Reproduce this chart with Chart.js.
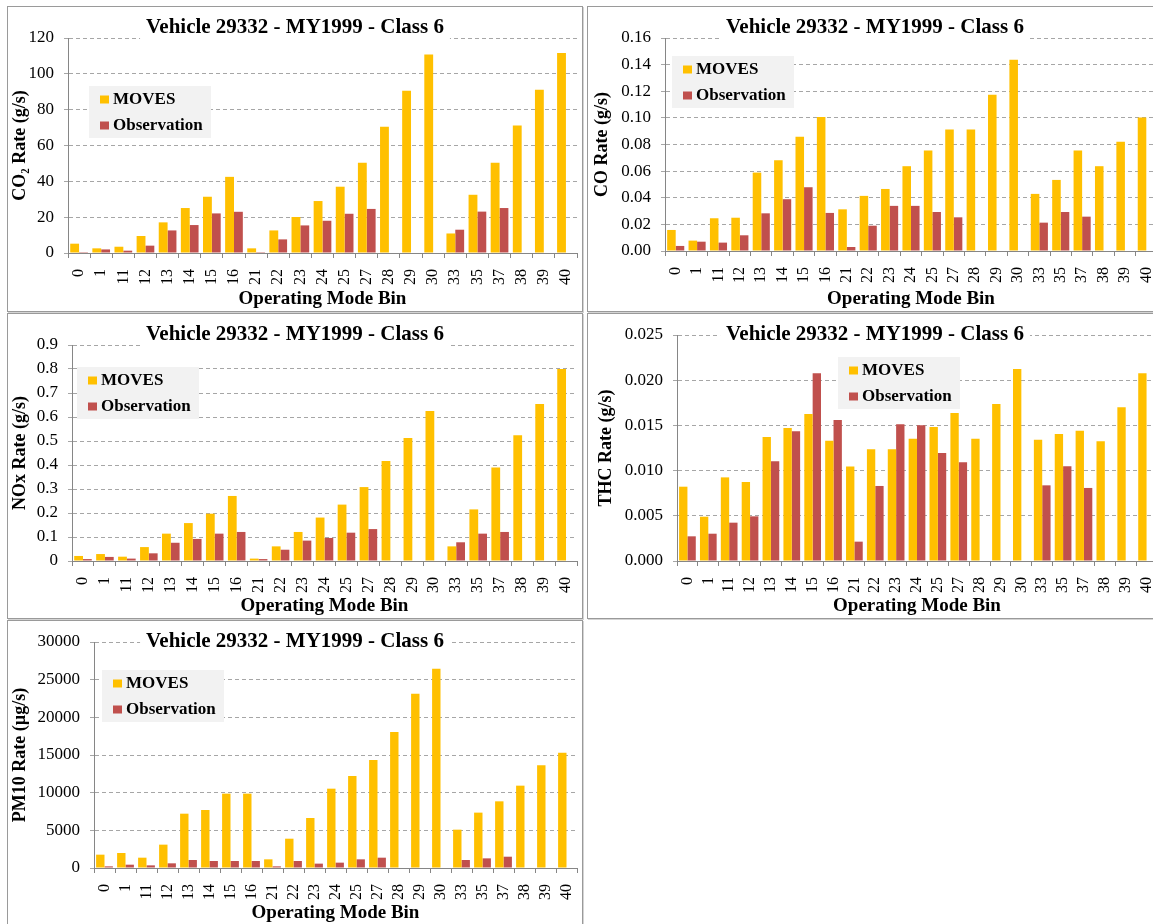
<!DOCTYPE html>
<html>
<head>
<meta charset="utf-8">
<script src="https://cdn.jsdelivr.net/npm/chart.js@4/dist/chart.umd.min.js"></script>
<style>
html,body{margin:0;padding:0;background:#fff;}
body{width:1153px;height:924px;overflow:hidden;position:relative;}
.panel{position:absolute;width:576px;height:306px;box-sizing:border-box;border:1px solid #9a9a9a;background:#fff;box-shadow:1px 1px 0 #d4d4d4;}
.panel canvas{position:absolute;left:0;top:0;}
</style>
</head>
<body>
<div class="panel" style="left:7px;top:6px;"><canvas id="c1" width="574" height="304"></canvas></div>
<div class="panel" style="left:587px;top:6px;"><canvas id="c2" width="574" height="304"></canvas></div>
<div class="panel" style="left:7px;top:313px;"><canvas id="c3" width="574" height="304"></canvas></div>
<div class="panel" style="left:587px;top:313px;"><canvas id="c4" width="574" height="304"></canvas></div>
<div class="panel" style="left:7px;top:620px;"><canvas id="c5" width="574" height="304"></canvas></div>
<script>
// ---------- data ----------
const categories = ['0','1','11','12','13','14','15','16','21','22','23','24','25','27','28','29','30','33','35','37','38','39','40'];
const seriesNames = ['MOVES', 'Observation'];
const chartTitle = 'Vehicle 29332 - MY1999 - Class 6';
const xAxisTitle = 'Operating Mode Bin';

const co2Moves = [5.2, 2.6, 3.5, 9.5, 17.1, 25.1, 31.4, 42.5, 2.6, 12.6, 20.1, 29.0, 37.0, 50.4, 70.5, 90.6, 110.8, 10.9, 32.5, 50.4, 71.1, 91.1, 111.6];
const co2Obs   = [0.5, 2.0, 1.3, 4.1, 12.6, 15.6, 22.1, 23.0, 0.5, 7.6, 15.4, 18.0, 21.9, 24.6, null, null, null, 13.0, 23.1, 25.1, null, null, null];
const co2TickLabels = ['0','20','40','60','80','100','120'];

const coMoves = [0.0158, 0.0078, 0.0246, 0.0250, 0.0589, 0.0682, 0.0858, 0.1006, 0.0313, 0.0414, 0.0466, 0.0637, 0.0755, 0.0913, 0.0913, 0.1174, 0.1437, 0.0429, 0.0534, 0.0755, 0.0637, 0.0820, 0.1003];
const coObs   = [0.0038, 0.0070, 0.0063, 0.0118, 0.0283, 0.0389, 0.0479, 0.0286, 0.0030, 0.0190, 0.0339, 0.0339, 0.0293, 0.0253, null, null, null, 0.0213, 0.0293, 0.0258, null, null, null];
const coTickLabels = ['0.00','0.02','0.04','0.06','0.08','0.10','0.12','0.14','0.16'];

const noxMoves = [0.021, 0.029, 0.018, 0.058, 0.114, 0.158, 0.197, 0.271, 0.010, 0.061, 0.121, 0.181, 0.235, 0.308, 0.417, 0.512, 0.625, 0.061, 0.215, 0.390, 0.524, 0.654, 0.800];
const noxObs   = [0.008, 0.017, 0.010, 0.032, 0.076, 0.092, 0.114, 0.121, 0.008, 0.047, 0.085, 0.096, 0.118, 0.133, null, null, null, 0.078, 0.114, 0.121, null, null, null];
const noxTickLabels = ['0','0.1','0.2','0.3','0.4','0.5','0.6','0.7','0.8','0.9'];

const thcMoves = [0.00822, 0.00490, 0.00925, 0.00874, 0.01372, 0.01471, 0.01626, 0.01331, 0.01044, 0.01235, 0.01235, 0.01353, 0.01482, 0.01637, 0.01353, 0.01737, 0.02124, 0.01342, 0.01405, 0.01442, 0.01324, 0.01700, 0.02076];
const thcObs   = [0.00273, 0.00302, 0.00424, 0.00494, 0.01103, 0.01434, 0.02076, 0.01560, 0.00214, 0.00830, 0.01512, 0.01501, 0.01195, 0.01091, null, null, null, 0.00837, 0.01047, 0.00808, null, null, null];
const thcTickLabels = ['0.000','0.005','0.010','0.015','0.020','0.025'];

const pm10Moves = [1770, 1990, 1370, 3100, 7210, 7700, 9870, 9870, 1150, 3890, 6640, 10530, 12210, 14340, 18050, 23140, 26460, 5090, 7350, 8850, 10930, 13630, 15310];
const pm10Obs   = [220, 440, 350, 620, 1060, 930, 930, 930, 220, 930, 580, 710, 1150, 1370, null, null, null, 1060, 1280, 1500, null, null, null];
const pm10TickLabels = ['0','5000','10000','15000','20000','25000','30000'];

// ---------- styling ----------
const SERIF = '"Liberation Serif", "Times New Roman", Times, serif';
const COLOR_MOVES = '#FFC000';
const COLOR_OBS = '#C0504D';
Chart.defaults.font.family = SERIF;
Chart.defaults.color = '#000';

const decorPlugin = {
  id: 'decor',
  afterDraw(chart, args, o) {
    const ctx = chart.ctx;
    ctx.save();
    ctx.font = 'bold 21px ' + SERIF;
    ctx.textAlign = 'center';
    ctx.textBaseline = 'middle';
    const tw = ctx.measureText(o.title).width;
    ctx.fillStyle = '#fff';
    ctx.fillRect(o.titleX - tw / 2 - 6, o.titleY - 11, tw + 12, 22);
    ctx.fillStyle = '#000';
    ctx.fillText(o.title, o.titleX, o.titleY);
    const L = o.legend;
    ctx.fillStyle = '#f2f2f2';
    ctx.fillRect(L.x, L.y, L.w, L.h);
    ctx.font = 'bold 17px ' + SERIF;
    ctx.textAlign = 'left';
    chart.data.datasets.forEach((ds, i) => {
      const cy = L.y + 13.5 + i * 26;
      ctx.fillStyle = ds.backgroundColor;
      ctx.fillRect(L.x + 11, cy - 4, 9, 8);
      ctx.fillStyle = '#000';
      ctx.fillText(ds.label, L.x + 24, cy + 0.5);
    });
    ctx.restore();
  }
};

function makeChart(id, moves, obs, tickLabels, yTitle, lay) {
  const W = 574, H = 304;
  const yWidth = lay.plot[0];
  const xHeight = H - lay.plot[3];
  new Chart(document.getElementById(id), {
    type: 'bar',
    data: {
      labels: categories,
      datasets: [
        { label: seriesNames[0], data: moves, backgroundColor: COLOR_MOVES, borderWidth: 0 },
        { label: seriesNames[1], data: obs, backgroundColor: COLOR_OBS, borderWidth: 0 }
      ]
    },
    options: {
      responsive: false,
      animation: false,
      devicePixelRatio: 1,
      layout: { padding: { left: 0, top: lay.plot[1], right: W - lay.plot[2], bottom: 0 } },
      datasets: { bar: { categoryPercentage: 0.8, barPercentage: 1.0 } },
      plugins: {
        legend: { display: false },
        title: { display: false },
        tooltip: { enabled: false },
        decor: { title: chartTitle, titleX: W / 2, titleY: 21, legend: lay.legend }
      },
      scales: {
        x: {
          offset: true,
          grid: { display: true, drawOnChartArea: false, drawTicks: true, tickLength: 5, color: '#868686', offset: true },
          border: { display: true, color: '#868686', width: 1 },
          ticks: { font: { size: 16, family: SERIF }, color: '#000', padding: 11, minRotation: 90, maxRotation: 90, autoSkip: false },
          title: { display: true, text: xAxisTitle, font: { size: 19, weight: 'bold', family: SERIF }, color: '#000', padding: { top: 0, bottom: 1 } },
          afterFit(s) { s.height = xHeight; s.paddingLeft = 0; s.paddingRight = 0; }
        },
        y: {
          min: 0,
          max: parseFloat(tickLabels[tickLabels.length - 1]),
          afterBuildTicks(s) { s.ticks = tickLabels.map(l => ({ value: parseFloat(l) })); },
          grid: { color: '#a6a6a6', lineWidth: 1, drawTicks: true, tickLength: 4, tickColor: '#a6a6a6' },
          border: { display: true, color: '#868686', width: 1, dash: [4, 3] },
          ticks: { font: { size: 17, family: SERIF }, color: '#000', padding: 10, callback: (v, i) => tickLabels[i] },
          title: { display: true, text: yTitle, font: { size: 18, weight: 'bold', family: SERIF }, color: '#000', padding: { top: lay.yTitlePad, bottom: 0 } },
          afterFit(s) { s.width = yWidth; s.paddingTop = 0; s.paddingBottom = 0; }
        }
      }
    },
    plugins: [decorPlugin]
  });
}

makeChart('c1', co2Moves, co2Obs, co2TickLabels, 'CO\u2082 Rate (g/s)',
  { plot: [60, 31, 569, 246], legend: { x: 81, y: 79, w: 122, h: 52 }, yTitlePad: 2 });
makeChart('c2', coMoves, coObs, coTickLabels, 'CO Rate (g/s)',
  { plot: [77, 31, 569, 244], legend: { x: 84, y: 49, w: 122, h: 52 }, yTitlePad: 4 });
makeChart('c3', noxMoves, noxObs, noxTickLabels, 'NOx Rate (g/s)',
  { plot: [64, 31, 569, 247], legend: { x: 69, y: 53, w: 122, h: 52 }, yTitlePad: 2 });
makeChart('c4', thcMoves, thcObs, thcTickLabels, 'THC Rate (g/s)',
  { plot: [89, 21, 569, 247], legend: { x: 250, y: 43, w: 122, h: 52 }, yTitlePad: 8 });
makeChart('c5', pm10Moves, pm10Obs, pm10TickLabels, 'PM10 Rate (\u00b5g/s)',
  { plot: [86, 21, 569, 247], legend: { x: 94, y: 49, w: 122, h: 52 }, yTitlePad: 2 });
</script>
</body>
</html>
